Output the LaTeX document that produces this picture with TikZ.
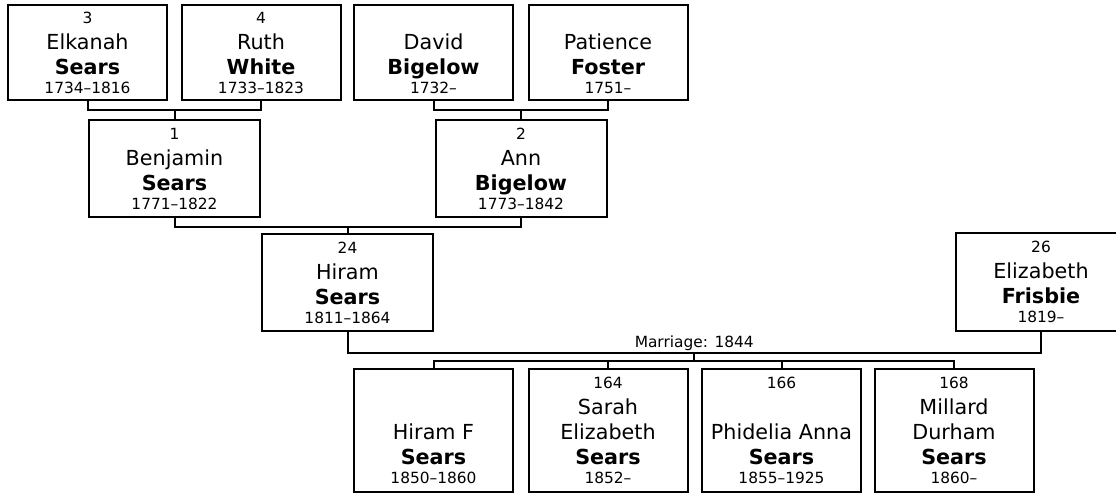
\documentclass[tikz,border=0pt]{standalone}
\usepackage{fontspec}
\setmainfont{DejaVu Sans}
\newcommand\smallfont{\fontsize{15.4}{19}\selectfont}
\newcommand\namefont{\fontsize{20.7}{25}\selectfont}
\begin{document}
\begin{tikzpicture}[x=1pt,y=-1pt,
  personbox/.style={draw,line width=2pt,align=center,inner sep=0pt,font=\namefont},
  topbox/.style={personbox,minimum width=159,minimum height=95},
  midbox/.style={personbox,minimum width=171,minimum height=97},
  kidbox/.style={personbox,minimum width=159,minimum height=123},
  link/.style={line width=2pt}]
\newcommand\persontext[4]{{\smallfont\vphantom{0}#1}\\[1pt]#2\\\textbf{#3}\\[-6pt]{\smallfont #4}}
\useasboundingbox (0,0) rectangle (1116,494);
% grandparents
\node[topbox] (elkanah) at (87.5,52.5) {\persontext{3}{Elkanah}{Sears}{1734–1816}};
\node[topbox] (ruth) at (261,52.5) {\persontext{4}{Ruth}{White}{1733–1823}};
\node[topbox] (david) at (433.5,52.5) {\persontext{}{David}{Bigelow}{1732–}};
\node[topbox] (patience) at (608,52.5) {\persontext{}{Patience}{Foster}{1751–}};
% parents
\node[midbox] (benjamin) at (174.5,168.5) {\persontext{1}{Benjamin}{Sears}{1771–1822}};
\node[midbox] (ann) at (521,168.5) {\persontext{2}{Ann}{Bigelow}{1773–1842}};
\node[midbox] (hiram) at (347.5,282.5) {\persontext{24}{Hiram}{Sears}{1811–1864}};
\node[midbox] (elizabeth) at (1041,282) {\persontext{26}{Elizabeth}{Frisbie}{1819–}};
% children
\node[kidbox] (hiramf) at (433.5,430.5) {\persontext{}{\\Hiram F}{Sears}{1850–1860}};
\node[kidbox] (sarah) at (608,430.5) {\persontext{164}{Sarah\\Elizabeth}{Sears}{1852–}};
\node[kidbox] (phidelia) at (781.5,430.5) {\persontext{166}{\\Phidelia Anna}{Sears}{1855–1925}};
\node[kidbox] (millard) at (954,430.5) {\persontext{168}{Millard\\Durham}{Sears}{1860–}};
% links
\draw[link] (elkanah.south) -- ++(0,9) coordinate (m1) -| (ruth.south);
\draw[link] (benjamin.north) -- (benjamin.north |- m1);
\draw[link] (david.south) -- ++(0,9) coordinate (m2) -| (patience.south);
\draw[link] (ann.north) -- (ann.north |- m2);
\draw[link] (benjamin.south) -- ++(0,9) coordinate (m3) -| (ann.south);
\draw[link] (hiram.north) -- (hiram.north |- m3);
\draw[link] (hiram.south) -- ++(0,21) coordinate (m4) -- (m4 -| elizabeth.south)
  coordinate[midway] (wed) node[midway,above,inner sep=1pt,font=\smallfont] (marriage) {Marriage: 1844}
  -- (elizabeth.south);
\draw[link] (wed) -- ++(0,8) coordinate (m5);
\draw[link] (hiramf.north) -- (hiramf.north |- m5) -- (millard.north |- m5) -- (millard.north);
\draw[link] (sarah.north) -- (sarah.north |- m5);
\draw[link] (phidelia.north) -- (phidelia.north |- m5);
\end{tikzpicture}
\end{document}
